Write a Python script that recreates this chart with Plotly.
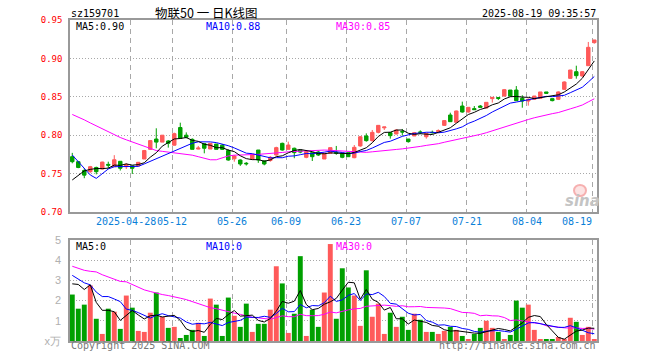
import pandas as pd
import plotly.graph_objects as go

# ---------------- data ----------------
holidays = ["2025-05-01", "2025-05-02", "2025-05-05", "2025-06-02"]
dates = [d.strftime("%Y-%m-%d") for d in pd.bdate_range("2025-04-14", "2025-08-19")
         if d.strftime("%Y-%m-%d") not in holidays]

opens = [0.772, 0.7655, 0.754, 0.7525, 0.758, 0.756, 0.762, 0.759, 0.766, 0.759,
         0.760, 0.760, 0.769, 0.7816, 0.795, 0.791, 0.7925, 0.787, 0.810, 0.800,
         0.7946, 0.782, 0.789, 0.782, 0.7885, 0.787, 0.780, 0.7693, 0.7677, 0.7635,
         0.7686, 0.7807, 0.7665, 0.767, 0.7742, 0.7894, 0.7816, 0.783, 0.7805, 0.7712,
         0.7773, 0.7781, 0.769, 0.7764, 0.7777, 0.7764, 0.7773, 0.7707, 0.786, 0.799,
         0.7929, 0.8037, 0.8096, 0.8033, 0.8016, 0.8046, 0.795, 0.799, 0.8042, 0.798,
         0.8037, 0.8046, 0.8128, 0.8263, 0.8168, 0.838, 0.8302, 0.8346, 0.838, 0.8354,
         0.8476, 0.849, 0.851, 0.8588, 0.8588, 0.848, 0.8445, 0.8467, 0.848, 0.8563,
         0.8476, 0.8467, 0.8597, 0.874, 0.8827, 0.8771, 0.8905, 0.9205]
highs = [0.777, 0.7665, 0.757, 0.760, 0.759, 0.7655, 0.7655, 0.774, 0.766, 0.7635,
         0.760, 0.765, 0.7808, 0.7937, 0.809, 0.800, 0.7937, 0.8033, 0.8163, 0.8037,
         0.7959, 0.786, 0.789, 0.7894, 0.7885, 0.7885, 0.7816, 0.7742, 0.7686, 0.765,
         0.7755, 0.7807, 0.767, 0.7729, 0.785, 0.7903, 0.7916, 0.7838, 0.781, 0.7798,
         0.7773, 0.7798, 0.7764, 0.7838, 0.786, 0.7764, 0.7773, 0.7872, 0.799, 0.8024,
         0.8068, 0.8133, 0.8107, 0.8033, 0.8076, 0.8081, 0.795, 0.8042, 0.8063, 0.8024,
         0.806, 0.8076, 0.8198, 0.8293, 0.832, 0.8437, 0.8363, 0.838, 0.8393, 0.8428,
         0.8493, 0.8493, 0.8602, 0.8588, 0.864, 0.852, 0.848, 0.851, 0.8563, 0.8563,
         0.8476, 0.8571, 0.8701, 0.8849, 0.8905, 0.8836, 0.9214, 0.924]
lows = [0.7634, 0.757, 0.744, 0.751, 0.749, 0.7555, 0.757, 0.759, 0.754, 0.756,
        0.7495, 0.760, 0.769, 0.7807, 0.783, 0.791, 0.7838, 0.7864, 0.796, 0.7959,
        0.7816, 0.7816, 0.7764, 0.782, 0.7816, 0.7807, 0.7668, 0.7655, 0.760, 0.7605,
        0.7686, 0.764, 0.7608, 0.7655, 0.7733, 0.7798, 0.7816, 0.770, 0.7765, 0.770,
        0.7664, 0.7729, 0.769, 0.7764, 0.7745, 0.770, 0.7716, 0.770, 0.785, 0.7916,
        0.7916, 0.8024, 0.8068, 0.7955, 0.8011, 0.7994, 0.7903, 0.799, 0.8016, 0.7955,
        0.802, 0.8033, 0.812, 0.8172, 0.8168, 0.8293, 0.8293, 0.8328, 0.8363, 0.835,
        0.8424, 0.8458, 0.8502, 0.8502, 0.845, 0.8358, 0.8385, 0.8467, 0.848, 0.854,
        0.8441, 0.8458, 0.8588, 0.8732, 0.8736, 0.8762, 0.8901, 0.9192]
closes = [0.7655, 0.758, 0.748, 0.759, 0.7525, 0.765, 0.761, 0.768, 0.757, 0.762,
          0.757, 0.7647, 0.780, 0.793, 0.791, 0.800, 0.7895, 0.802, 0.796, 0.7973,
          0.7816, 0.7832, 0.783, 0.7894, 0.7816, 0.7816, 0.7677, 0.7728, 0.7625, 0.7628,
          0.775, 0.7677, 0.7625, 0.7712, 0.7838, 0.7807, 0.7872, 0.7773, 0.778, 0.7785,
          0.772, 0.7742, 0.7764, 0.7838, 0.7765, 0.7712, 0.772, 0.7842, 0.798, 0.7929,
          0.8037, 0.8128, 0.8107, 0.7994, 0.8068, 0.8042, 0.7916, 0.8033, 0.8037, 0.8024,
          0.8033, 0.806, 0.819, 0.8176, 0.8315, 0.8302, 0.8363, 0.8333, 0.8363, 0.8428,
          0.8493, 0.848, 0.8593, 0.851, 0.845, 0.8445, 0.8467, 0.851, 0.8563, 0.8545,
          0.845, 0.8563, 0.8693, 0.8849, 0.8775, 0.8827, 0.9144, 0.924]
volumes = [2.3, 1.6, 1.8, 2.75, 1.1, 0.35, 1.6, 1.45, 0.6, 2.25,
           1.65, 0.5, 0.45, 1.4, 2.4, 1.2, 0.65, 0.7, 0.15, 0.3,
           0.55, 0.9, 0.25, 2.1, 1.8, 0.25, 2.15, 1.25, 0.7, 1.85,
           0.45, 0.85, 0.85, 1.55, 3.7, 2.85, 0.4, 1.35, 4.2, 0.25,
           1.55, 0.7, 2.4, 4.8, 1.1, 3.6, 2.65, 2.25, 0.75, 3.5,
           1.2, 1.85, 0.35, 1.4, 0.7, 1.2, 0.55, 1.35, 1.05, 0.45,
           0.45, 0.35, 0.5, 0.7, 0.55, 0.25, 0.1, 0.35, 0.65, 1.0,
           0.65, 0.45, 0.1, 0.3, 2.0, 1.65, 1.8, 0.55, 0.05, 0.05,
           0.05, 0.2, 0.1, 1.15, 0.95, 0.3, 0.7, 0.05]

# moving-average values before enough history exists in this window
ma5_head = [0.7417, 0.748, 0.7535, 0.7555]
ma10_head = [0.7742, 0.7655, 0.757, 0.7482, 0.7438, 0.7503, 0.756, 0.759, 0.759]
ma30_head = [0.827, 0.824, 0.820, 0.816, 0.812, 0.808, 0.804, 0.800, 0.797, 0.794,
             0.791, 0.788, 0.785, 0.782, 0.780, 0.779, 0.778, 0.777, 0.776, 0.775,
             0.774, 0.772, 0.770, 0.768, 0.768, 0.771, 0.773, 0.774, 0.774]
vma5_head = [2.83, 2.8, 2.55, 2.78]
vma10_head = [3.25, 3.05, 2.88, 2.78, 2.42, 2.2, 2.2, 2.08, 1.95]
vma30_head = [3.70, 3.58, 3.50, 3.45, 3.42, 3.28, 3.17, 3.03, 2.95, 2.93,
              2.80, 2.67, 2.53, 2.45, 2.37, 2.30, 2.25, 2.20, 2.12, 2.05,
              1.95, 1.85, 1.72, 1.65, 1.60, 1.52, 1.44, 1.38, 1.32]

tick_dates = ["2025-04-28", "2025-05-12", "2025-05-26", "2025-06-09", "2025-06-23",
              "2025-07-07", "2025-07-21", "2025-08-04", "2025-08-19"]
tick_labels = ["2025-04-28", "05-12", "05-26", "06-09", "06-23",
               "07-07", "07-21", "08-04", "08-19"]


def sma(vals, n, head):
    out = list(head)
    for i in range(len(head), len(vals)):
        out.append(sum(vals[i - n + 1:i + 1]) / n)
    return out


ma5 = sma(closes, 5, ma5_head)
ma10 = sma(closes, 10, ma10_head)
ma30 = sma(closes, 30, ma30_head)
vma5 = sma(volumes, 5, vma5_head)
vma10 = sma(volumes, 10, vma10_head)
vma30 = sma(volumes, 30, vma30_head)

# ---------------- styling ----------------
RED = "#ff5a5a"
GREEN = "#00a000"
MONO = "DejaVu Sans Mono"
GRID = "#a8a8a8"
FRAME = "#999999"
W, H = 660, 360
ML, MR, MT, MB = 70, 63, 20, 19
PW, PH = W - ML - MR, H - MT - MB


def px(x):
    return (x - ML) / PW


def py(y):
    return (H - MB - y) / PH


x = list(range(len(dates)))
vol_colors = [RED if c >= o else GREEN for o, c in zip(opens, closes)]
grid_x = [dates.index(d) - 0.3 for d in tick_dates]

fig = go.Figure()
fig.add_trace(go.Candlestick(
    x=x, open=opens, high=highs, low=lows, close=closes,
    increasing=dict(line=dict(color=RED, width=1), fillcolor=RED),
    decreasing=dict(line=dict(color=GREEN, width=1), fillcolor=GREEN),
    whiskerwidth=0, xaxis="x", yaxis="y", hoverinfo="skip"))
for vals, col in [(ma30, "#ff00ff"), (ma10, "#0000ff"), (ma5, "#000000")]:
    fig.add_trace(go.Scatter(x=x, y=vals, mode="lines", line=dict(color=col, width=1),
                             xaxis="x", yaxis="y", hoverinfo="skip"))

fig.add_trace(go.Bar(x=x, y=volumes, marker=dict(color=vol_colors, line=dict(width=0)),
                     width=0.82, xaxis="x2", yaxis="y2", hoverinfo="skip"))
for vals, col in [(vma30, "#ff00ff"), (vma10, "#0000ff"), (vma5, "#000000")]:
    fig.add_trace(go.Scatter(x=x, y=vals, mode="lines", line=dict(color=col, width=1),
                             xaxis="x2", yaxis="y2", hoverinfo="skip"))

xrange = [-0.38, len(dates) - 1 + 0.45]
main_bottom = py(212)
vol_top = py(240)

common_x = dict(range=xrange, tickvals=grid_x, showticklabels=False, ticks="",
                showgrid=True, gridcolor=GRID, griddash="5px,4px", gridwidth=1,
                showline=True, mirror=True, linecolor=FRAME, linewidth=1.5,
                zeroline=False, fixedrange=True)

fig.update_layout(
    width=W, height=H,
    margin=dict(l=ML, r=MR, t=MT, b=MB, pad=0),
    paper_bgcolor="white", plot_bgcolor="white",
    showlegend=False, hovermode=False, boxgap=0.18,
    xaxis=dict(domain=[0, 1], anchor="y", rangeslider=dict(visible=False), **common_x),
    xaxis2=dict(domain=[0, 1], anchor="y2", matches="x", **common_x),
    yaxis=dict(domain=[main_bottom, 1], range=[0.70, 0.95],
               tickvals=[0.70, 0.75, 0.80, 0.85, 0.90, 0.95], tickformat=".2f",
               tickfont=dict(family=MONO, size=9, color="#ff0000"),
               ticks="outside", ticklen=4, tickcolor="rgba(0,0,0,0)",
               showgrid=True, gridcolor=GRID, griddash="1px,2px", gridwidth=1,
               showline=True, mirror=True, linecolor=FRAME, linewidth=1.5,
               zeroline=False, fixedrange=True),
    yaxis2=dict(domain=[0, vol_top], range=[0, 5],
                tickvals=[0, 1, 2, 3, 4, 5], ticktext=["x万", "1", "2", "3", "4", "5"],
                tickfont=dict(family="Liberation Sans", size=11, color="#b0b0b0"),
                ticks="outside", ticklen=5, tickcolor="rgba(0,0,0,0)",
                showgrid=True, gridcolor=GRID, griddash="1px,2px", gridwidth=1,
                showline=True, mirror=True, linecolor=FRAME, linewidth=1.5,
                zeroline=False, fixedrange=True),
)

ann = []


def text(t, xp, yp, color="#000000", size=10, family=MONO, anchor="left", xref="paper", **kw):
    ann.append(dict(text=t, x=xp, y=yp, xref=xref, yref="paper", xanchor=anchor,
                    yanchor="middle", showarrow=False, borderpad=0,
                    font=dict(family=family, size=size, color=color, **kw)))


# header
text("sz159701", px(70), py(13))
text("物联50 一 日K线图", px(206.5), py(12.5), size=12.5, family="Noto Sans CJK SC", anchor="center")
text("2025-08-19 09:35:57", px(597), py(13), anchor="right")
# price legends
text(f"MA5:{ma5[-1]:.2f}", px(75), py(26.5), "#000000")
text(f"MA10:{ma10[-1]:.2f}", px(205), py(26.5), "#0000ff")
text(f"MA30:{ma30[-1]:.2f}", px(334.5), py(26.5), "#ff00ff")
# volume legends
text("MA5:0", px(75), py(246.5), "#000000")
text("MA10:0", px(205), py(246.5), "#0000ff")
text("MA30:0", px(334.5), py(246.5), "#ff00ff")
# date labels
for i, (gx, lab) in enumerate(zip(grid_x, tick_labels)):
    if i == 0:
        # long first label sits just left of the next one, as in the original
        text(lab, px(156.5), py(221), "#0a80d8", anchor="right")
    elif i == len(tick_labels) - 1:
        text(lab, gx, py(221), "#0a80d8", xref="x", anchor="right")
    else:
        text(lab, gx, py(221), "#0a80d8", xref="x", anchor="center")
# footer
text("Copyright 2025 SINA.COM", px(70), py(346), "#777777")
text("http://finance.sina.com.cn", px(597), py(346), "#777777", anchor="right")
# watermark
text("sina", px(582), py(201), "#c4c4c4", size=15, family="DejaVu Sans", anchor="center",
     weight="bold", style="italic")
fig.update_layout(annotations=ann)
fig.add_shape(type="circle", xref="paper", yref="paper",
              x0=px(574), x1=px(586), y0=py(196), y1=py(185),
              line=dict(color="#f6b0b0", width=2), fillcolor="rgba(246,176,176,0.35)")

fig.write_html("out.html", config={"displayModeBar": False},
               post_script="document.body.style.margin='0';")
